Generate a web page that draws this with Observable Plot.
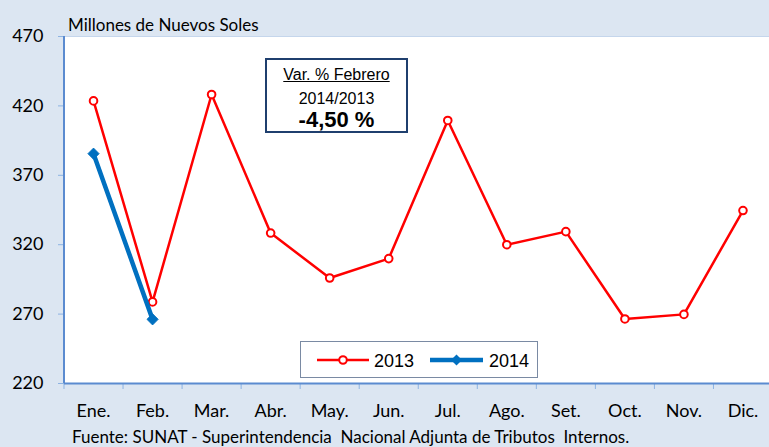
<!DOCTYPE html>
<html>
<head>
<meta charset="utf-8">
<script src="https://cdn.jsdelivr.net/npm/d3@7"></script>
<script src="https://cdn.jsdelivr.net/npm/@observablehq/plot@0.6"></script>
<style>
  html, body { margin: 0; padding: 0; background: #dce6f2; }
  #wrap { position: relative; width: 769px; height: 447px; overflow: hidden; background: #dce6f2; }
  #wrap svg.plot { position: absolute; left: 0; top: 0; background: transparent; }
  .lbl { position: absolute; font-family: Lato, sans-serif; color: #000; white-space: pre; line-height: 1; }
  #note { position: absolute; left: 265px; top: 58px; width: 139px; height: 71px; border: 2px solid #1f3f6e; background: #fff;
          font-family: "Liberation Sans", Arial, sans-serif; text-align: center; color: #000; line-height: 1; }
  #note div { position: absolute; left: 0; right: 0; white-space: pre; }
  #legend { position: absolute; left: 300px; top: 341px; width: 236px; height: 35px; border: 1px solid #7a8aa3; background: #fff; }
</style>
</head>
<body>
<div id="wrap">
  <div id="note">
    <div style="top:7px;font-size:16px;text-decoration:underline;">Var. % Febrero</div>
    <div style="top:31px;font-size:16px;">2014/2013</div>
    <div style="top:49px;font-size:22px;font-weight:bold;">-4,50 %</div>
  </div>
  <div id="legend"></div>
</div>
<script>
const months = ["Ene.", "Feb.", "Mar.", "Abr.", "May.", "Jun.", "Jul.", "Ago.", "Set.", "Oct.", "Nov.", "Dic."];
const values2013 = [423.6, 278.8, 428.2, 328.4, 296.0, 310.0, 409.5, 320.0, 329.4, 266.5, 269.8, 344.6];
const values2014 = [385.6, 266.2];
const yTicks = [220, 270, 320, 370, 420, 470];
const seriesNames = ["2013", "2014"];
const titleText = "Millones de Nuevos Soles";
const sourceText = "Fuente: SUNAT - Superintendencia  Nacional Adjunta de Tributos  Internos.";

const red = "#ff0000", blue = "#0070c0", axisBlue = "#5b8bd0", tickBlue = "#8db3e2";

const d2013 = values2013.map((v, i) => ({i, v, serie: seriesNames[0]}));
const d2014 = values2014.map((v, i) => ({i, v, serie: seriesNames[1]}));
const boundaries = d3.range(months.length + 1).map(i => i - 0.5);

const chart = Plot.plot({
  width: 769,
  height: 447,
  marginLeft: 64,
  marginRight: 0,
  marginTop: 36,
  marginBottom: 64,
  style: {fontFamily: "Lato, sans-serif", background: "transparent", overflow: "visible"},
  x: {type: "linear", domain: [-0.5, months.length - 0.5], range: [63.5, 772], axis: null},
  y: {domain: [220, 470], axis: null},
  marks: [
    Plot.frame({fill: "white", stroke: "#c5d6ec", strokeWidth: 1}),
    Plot.axisY(yTicks, {tickSize: 6, tickPadding: 15, fontSize: 18, stroke: tickBlue, fill: "#000", label: null}),
    Plot.axisX(boundaries, {tickSize: 6, tickFormat: () => "", stroke: tickBlue, label: null}),
    Plot.axisX(d3.range(months.length), {tickSize: 0, tickPadding: 21, fontSize: 18, fill: "#000", tickFormat: i => months[i], label: null}),
    Plot.ruleY([220], {stroke: axisBlue, strokeWidth: 2}),
    Plot.ruleX([-0.5], {stroke: axisBlue, strokeWidth: 2}),
    Plot.line(d2013, {x: "i", y: "v", stroke: red, strokeWidth: 2.5}),
    Plot.dot(d2013, {x: "i", y: "v", r: 3.8, fill: "white", stroke: red, strokeWidth: 2}),
    Plot.line(d2014, {x: "i", y: "v", stroke: blue, strokeWidth: 4.5}),
    Plot.dot(d2014, {x: "i", y: "v", r: 5, symbol: "diamond2", fill: blue, stroke: blue, strokeWidth: 1})
  ]
});
chart.classList.add("plot");
const wrap = document.getElementById("wrap");
wrap.insertBefore(chart, wrap.firstChild);

// title & source
const t = document.createElement("div");
t.className = "lbl"; t.textContent = titleText;
Object.assign(t.style, {left: "68px", top: "16px", fontSize: "17px"});
wrap.appendChild(t);
const s = document.createElement("div");
s.className = "lbl"; s.textContent = sourceText;
Object.assign(s.style, {left: "72px", top: "428px", fontSize: "17px"});
wrap.appendChild(s);

// legend
const lg = d3.select("#legend").append("svg").attr("width", 236).attr("height", 35)
  .style("font-family", "'Liberation Sans', Arial, sans-serif").style("font-size", "18px");
const sym = d3.symbol().type(d3.symbolDiamond2).size(Math.PI * 25);
const items = [
  {name: seriesNames[0], color: red, w: 2.5, x0: 16, x1: 68, mk: "circle", tx: 73},
  {name: seriesNames[1], color: blue, w: 4.5, x0: 129, x1: 182, mk: "diamond", tx: 188}
];
for (const it of items) {
  lg.append("line").attr("x1", it.x0).attr("x2", it.x1).attr("y1", 18).attr("y2", 18)
    .attr("stroke", it.color).attr("stroke-width", it.w);
  const cx = (it.x0 + it.x1) / 2;
  if (it.mk === "circle") {
    lg.append("circle").attr("cx", cx).attr("cy", 18).attr("r", 3.8).attr("fill", "white")
      .attr("stroke", it.color).attr("stroke-width", 2);
  } else {
    lg.append("path").attr("d", sym()).attr("transform", `translate(${cx},18)`).attr("fill", it.color);
  }
  lg.append("text").attr("x", it.tx).attr("y", 24.5).text(it.name);
}
</script>
</body>
</html>
